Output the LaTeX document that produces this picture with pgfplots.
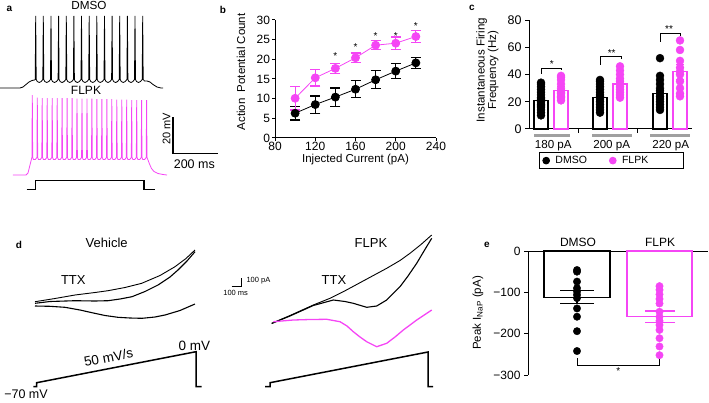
\documentclass[border=0pt]{standalone}
\usepackage{pgfplots}
\pgfplotsset{compat=1.18}
\usepackage{fontspec}
\setmainfont{Liberation Sans}
\definecolor{mag}{RGB}{245,70,245}
\definecolor{gbar}{RGB}{160,160,160}
\newcommand{\fs}[1]{\fontsize{#1}{#1}\selectfont}
\begin{document}
\begin{tikzpicture}
% ---------------- canvas for traces (pixel coordinates, y downward)
\begin{axis}[at={(0pt,0pt)}, anchor=south west, scale only axis, width=709pt, height=402pt,
  xmin=0, xmax=709, ymin=0, ymax=402, y dir=reverse, hide axis, clip=false]
% a: DMSO trace
\addplot[black, line width=0.8pt] coordinates {
(0,88)(20,88)(23,87)(26,84.5)(29,82)(32,80.5)(34.5,80)
(35.2,79.5)(35.7,16)(36.2,79.5)(37.2,81.5)(39.2,82.5)(41.2,81.5)
(42.8,79.5)(43.3,16)(43.8,79.5)(44.8,81.5)(46.8,82.5)(48.8,81.5)
(50.5,79.5)(51.0,16)(51.5,79.5)(52.5,81.5)(54.5,82.5)(56.5,81.5)
(58.1,79.5)(58.6,16)(59.1,79.5)(60.1,81.5)(62.1,82.5)(64.1,81.5)
(65.8,79.5)(66.3,16)(66.8,79.5)(67.8,81.5)(69.8,82.5)(71.8,81.5)
(73.4,79.5)(73.9,16)(74.4,79.5)(75.4,81.5)(77.4,82.5)(79.4,81.5)
(81.0,79.5)(81.5,16)(82.0,79.5)(83.0,81.5)(85.0,82.5)(87.0,81.5)
(88.7,79.5)(89.2,16)(89.7,79.5)(90.7,81.5)(92.7,82.5)(94.7,81.5)
(96.3,79.5)(96.8,16)(97.3,79.5)(98.3,81.5)(100.3,82.5)(102.3,81.5)
(104.0,79.5)(104.5,16)(105.0,79.5)(106.0,81.5)(108.0,82.5)(110.0,81.5)
(111.6,79.5)(112.1,16)(112.6,79.5)(113.6,81.5)(115.6,82.5)(117.6,81.5)
(119.2,79.5)(119.7,16)(120.2,79.5)(121.2,81.5)(123.2,82.5)(125.2,81.5)
(126.9,79.5)(127.4,16)(127.9,79.5)(128.9,81.5)(130.9,82.5)(132.9,81.5)
(134.5,79.5)(135.0,16)(135.5,79.5)(136.5,81.5)(138.5,82.5)(140.5,81.5)
(142.2,79.5)(142.7,16)(143.2,79.5)(144.5,81)(147,81)(150,82)(153,84.5)(157,87)(161,88)(163,88)};
% a: FLPK trace
\addplot[mag, line width=0.8pt] coordinates {
(13,175)(26,175)(28,173)(29.5,167)(31,161)
(31.9,157.5)(32.3,95)(32.7,157.5)(33.5,159.5)(35.3,159.5)
(36.9,157.5)(37.3,97.5)(37.7,157.5)(38.5,159.5)(40.3,159.5)
(41.8,157.5)(42.2,98)(42.6,157.5)(43.4,159.5)(45.2,159.5)
(46.8,157.5)(47.2,98)(47.6,157.5)(48.4,159.5)(50.2,159.5)
(51.8,157.5)(52.2,98)(52.6,157.5)(53.4,159.5)(55.2,159.5)
(56.8,157.5)(57.2,98)(57.6,157.5)(58.4,159.5)(60.2,159.5)
(61.7,157.5)(62.1,98)(62.5,157.5)(63.3,159.5)(65.1,159.5)
(66.7,157.5)(67.1,98)(67.5,157.5)(68.3,159.5)(70.1,159.5)
(71.7,157.5)(72.1,98)(72.5,157.5)(73.3,159.5)(75.1,159.5)
(76.6,157.5)(77.0,98.5)(77.4,157.5)(78.2,159.5)(80.0,159.5)
(81.6,157.5)(82.0,98.5)(82.4,157.5)(83.2,159.5)(85.0,159.5)
(86.6,157.5)(87.0,98.5)(87.4,157.5)(88.2,159.5)(90.0,159.5)
(91.5,157.5)(91.9,98.5)(92.3,157.5)(93.1,159.5)(94.9,159.5)
(96.5,157.5)(96.9,99)(97.3,157.5)(98.1,159.5)(99.9,159.5)
(101.5,157.5)(101.9,99)(102.3,157.5)(103.1,159.5)(104.9,159.5)
(106.5,157.5)(106.9,99)(107.3,157.5)(108.1,159.5)(109.9,159.5)
(111.4,157.5)(111.8,99)(112.2,157.5)(113.0,159.5)(114.8,159.5)
(116.4,157.5)(116.8,99.5)(117.2,157.5)(118.0,159.5)(119.8,159.5)
(121.4,157.5)(121.8,99.5)(122.2,157.5)(123.0,159.5)(124.8,159.5)
(126.3,157.5)(126.7,99.5)(127.1,157.5)(127.9,159.5)(129.7,159.5)
(131.3,157.5)(131.7,100)(132.1,157.5)(132.9,159.5)(134.7,159.5)
(136.3,157.5)(136.7,100)(137.1,157.5)(137.9,159.5)(139.7,159.5)
(141.2,157.5)(141.6,100)(142.0,157.5)(142.8,159.5)(144.6,159.5)
(146.2,157.5)(146.6,100)(147.0,157.5)(148,160)(149.5,164)(151.5,168.5)(154,171.5)(158,173.5)(163,174.5)(167,175)};
% a: stimulus step and scale bar
\addplot[black, line width=1.5pt] coordinates {(26.7,189.3)(35.7,189.3)(35.7,180.7)(144,180.7)(144,189.3)(155,189.3)};
\addplot[black, line width=1.2pt] coordinates {(173,117)(173,153.3)(218.3,153.3)};
% d: vehicle traces
\addplot[black, line width=0.9pt] coordinates {(35,301.7)(55,298.5)(75,295)(95,292.5)(108,290.7)(125,287.5)(141.7,283.3)(160,275.5)(175,266.7)(186,258.5)(195,250)};
\addplot[black, line width=1.1pt] coordinates {(35,303.3)(50,301.5)(75,300.7)(95,301)(108,300.7)(120,299)(132,296.7)(145,291.5)(158,285)(170,277)(178,270)(187,261)(195,251.7)};
\addplot[black, line width=1.1pt] coordinates {(35,306)(50,306.3)(65,307.3)(80,310)(92,312.7)(105,315.5)(118,317.3)(130,318)(142,318.3)(155,317)(165,315)(180,310.5)(195,304)};
% d: FLPK traces
\addplot[black, line width=0.9pt] coordinates {(271.7,323.3)(290,315.5)(313.3,305)(330,298.3)(343.3,291.7)(365,280)(386.7,268.3)(400,260.5)(410,253.3)(421,244.5)(431.7,235)};
\addplot[black, line width=1.1pt] coordinates {(271.7,323.5)(290,316)(313.3,305.5)(333.3,300)(345,301.5)(353.3,303.3)(366.7,307.3)(376.7,306)(386.7,300)(400,286.7)(408,276)(416.7,263.3)(424,251)(431.7,238.3)};
\addplot[mag, line width=1.3pt] coordinates {(273.3,321.7)(293.3,320)(310,319.5)(326.7,319.3)(340,321.7)(347,326)(353.3,331.7)(360,337)(366.7,341.7)(376.7,346.7)(386.7,343.3)(395,337)(403.3,330)(416.7,320)(431.7,310)};
% d: ramps and scale bar
\addplot[black, line width=1.5pt] coordinates {(33.3,386.7)(36.7,386.7)(36.7,382.7)(196,351.7)(196,386.7)(201.7,386.7)};
\addplot[black, line width=1.5pt] coordinates {(265,386.7)(270,386.7)(270,382.7)(428,352)(428,386.7)(433,386.7)};
\addplot[black, line width=0.8pt] coordinates {(231.7,286.7)(241,286.7)(241,278.3)};
% texts
\node[font=\fs{10}\bfseries] at (axis cs:9.3,9.3) {a};
\node[font=\fs{10}\bfseries] at (axis cs:223,10) {b};
\node[font=\fs{10}\bfseries] at (axis cs:472,8) {c};
\node[font=\fs{10}\bfseries] at (axis cs:19,245) {d};
\node[font=\fs{10}\bfseries] at (axis cs:487,245) {e};
\node[font=\fs{11.7}] at (axis cs:89,5.5) {DMSO};
\node[font=\fs{12}] at (axis cs:86,90.7) {FLPK};
\node[font=\fs{11}, rotate=90] at (axis cs:166.5,129) {20 mV};
\node[font=\fs{12.5}] at (axis cs:194.3,164) {200 ms};
\node[font=\fs{13}] at (axis cs:106.7,243.3) {Vehicle};
\node[font=\fs{13}] at (axis cs:73.3,280) {TTX};
\node[font=\fs{13}] at (axis cs:371,242.7) {FLPK};
\node[font=\fs{13}] at (axis cs:334,280) {TTX};
\node[font=\fs{12.5}] at (axis cs:26,394.5) {−70 mV};
\node[font=\fs{13.5}] at (axis cs:194.3,345.7) {0 mV};
\node[font=\fs{13.5}, rotate=11] at (axis cs:108.5,357.5) {50 mV/s};
\node[font=\fs{7.5}, anchor=west] at (axis cs:243,280.7) {100 pA};
\node[font=\fs{7.5}] at (axis cs:235.7,293.3) {100 ms};
\end{axis}
% ---------------- b
\begin{axis}[at={(275pt,264pt)}, anchor=south west, scale only axis, width=161pt, height=118pt,
  xmin=80, xmax=240, ymin=0, ymax=30, axis lines*=left, clip=false,
  xtick={80,120,...,240}, ytick={0,5,...,30}, tick align=outside, major tick length=3pt,
  axis line style={line width=1pt}, every tick/.style={black, line width=1pt},
  /pgf/number format/assume math mode=true, tick label style={font=\fs{12}},
  xticklabel style={yshift=2.5pt}, yticklabel style={xshift=1.5pt},
  xlabel={Injected Current (pA)}, ylabel={Action\ \ Potential Count},
  label style={font=\fs{11.5}},
  xlabel style={at={(axis description cs:0.5,-0.185)}, anchor=center},
  ylabel style={at={(axis description cs:-0.211,0.56)}, anchor=center}]
\addplot[black, line width=0.8pt, mark=*, mark size=4pt, mark options={fill=black},
  error bars/.cd, y dir=both, y explicit, error bar style={line width=1.2pt},
  error mark options={rotate=90, mark size=5pt, line width=1.2pt}]
  coordinates {(100,6.3)+-(0,1.7)(120,8.5)+-(0,2.2)(140,10.4)+-(0,2.3)(160,12.4)+-(0,2.2)(180,14.8)+-(0,2.3)(200,17.0)+-(0,1.9)(220,19.1)+-(0,1.4)};
\addplot[mag, line width=0.8pt, mark=*, mark size=4pt, mark options={fill=mag},
  error bars/.cd, y dir=both, y explicit, error bar style={line width=1.2pt},
  error mark options={rotate=90, mark size=5pt, line width=1.2pt}]
  coordinates {(100,10.1)+-(0,3.0)(120,15.3)+-(0,2.1)(140,17.7)+-(0,1.3)(160,20.4)+-(0,1.2)(180,23.6)+-(0,1.1)(200,24.1)+-(0,1.6)(220,25.8)+-(0,1.6)};
\node[font=\fs{10}] at (axis cs:140,20.9) {*};
\node[font=\fs{10}] at (axis cs:160,23.2) {*};
\node[font=\fs{10}] at (axis cs:180,26.0) {*};
\node[font=\fs{10}] at (axis cs:200,26.0) {*};
\node[font=\fs{10}] at (axis cs:220,28.4) {*};
\end{axis}
% ---------------- c
\begin{axis}[at={(529pt,273pt)}, anchor=south west, scale only axis, width=163pt, height=109pt,
  xmin=0, xmax=163, ymin=0, ymax=80, axis lines*=left, clip=false,
  xtick={49,108}, xticklabels={}, ytick={0,20,...,80}, tick align=outside, major tick length=4pt,
  axis line style={line width=1pt}, every tick/.style={black, line width=1pt},
  /pgf/number format/assume math mode=true, tick label style={font=\fs{12.5}},
  ylabel={Instantaneous Firing\\Frequency (Hz)},
  ylabel style={font=\fs{11.5}, align=center, at={(axis description cs:-0.255,0.54)}, anchor=center},
  legend image code/.code={\draw[#1] plot coordinates {(0pt,0pt)};},
  legend style={at={(axis description cs:0.506,-0.29)}, anchor=center, draw=black, line width=1pt,
    font=\fs{10.5}, inner xsep=3pt, inner ysep=1.5pt,
    /tikz/every odd column/.append style={column sep=4pt}},
  legend columns=2]
\addlegendimage{only marks, mark=*, mark size=3.3pt, black}
\addlegendentry{\makebox[52pt][l]{DMSO}}
\addlegendimage{only marks, mark=*, mark size=3.3pt, mag}
\addlegendentry{\makebox[56pt][l]{FLPK}}
\addplot[ybar, bar width=14pt, bar shift=0pt, fill=white, draw=black, line width=1.3pt, forget plot,
  error bars/.cd, y dir=both, y explicit, error bar style={black, line width=1.1pt},
  error mark options={rotate=90, mark size=4pt, black, line width=1.1pt}]
  coordinates {(12,21)+-(0,2)(71,23)+-(0,2)(131,26)+-(0,2.5)};
\addplot[ybar, bar width=14pt, bar shift=0pt, fill=white, draw=mag, line width=1.3pt, forget plot,
  error bars/.cd, y dir=both, y explicit, error bar style={mag, line width=1.1pt},
  error mark options={rotate=90, mark size=4pt, mag, line width=1.1pt}]
  coordinates {(32,28.5)+-(0,2.5)(91,33)+-(0,2.5)(151,42)+-(0,5.5)};
\addplot[only marks, mark=*, mark size=4pt, black, forget plot] coordinates {
(12,10)(12,12)(12,14)(12,16)(12,17)(12,18)(12,20)(12,21)(12,22)(12,23)(12,25)(12,27)(12,29)(12,31)(12,33)(12,34)
(71,12)(71,14)(71,16)(71,18)(71,20)(71,22)(71,24)(71,25)(71,27)(71,29)(71,31)(71,33)(71,35)(71,36)
(131,14)(131,16)(131,18)(131,20)(131,22)(131,24)(131,26)(131,28)(131,30)(131,33)(131,36)(131,39)(131,52)};
\addplot[only marks, mark=*, mark size=4pt, mag, forget plot] coordinates {
(32,21)(32,23)(32,24)(32,26)(32,27)(32,28)(32,30)(32,33)(32,36)(32,38)(32,39)
(91,23)(91,25)(91,27)(91,29)(91,31)(91,33)(91,35)(91,37)(91,40)(91,43)(91,46)
(151,24)(151,26)(151,30)(151,35)(151,40)(151,42)(151,45)(151,50)(151,58)(151,65)};
% group underlines
\addplot[gbar, line width=3pt, forget plot] coordinates {(5,-5.1)(41,-5.1)};
\addplot[gbar, line width=3pt, forget plot] coordinates {(63,-5.1)(103,-5.1)};
\addplot[gbar, line width=3pt, forget plot] coordinates {(121,-5.1)(161,-5.1)};
% significance brackets
\addplot[black, line width=1pt, forget plot] coordinates {(12.7,40.4)(12.7,44.5)(32.7,44.5)(32.7,43.3)};
\addplot[black, line width=1pt, forget plot] coordinates {(71,47)(71,53.1)(92.7,53.1)(92.7,51.2)};
\addplot[black, line width=1pt, forget plot] coordinates {(131,64)(131,70.2)(151,70.2)(151,68.3)};
\node[font=\fs{10}] at (axis cs:22.7,47.5) {*};
\node[font=\fs{10}] at (axis cs:82.7,56) {**};
\node[font=\fs{10}] at (axis cs:140,73.3) {**};
\node[font=\fs{11.6}] at (axis cs:24.3,-12.5) {180 pA};
\node[font=\fs{11.6}] at (axis cs:82.7,-12.5) {200 pA};
\node[font=\fs{11.6}] at (axis cs:141.7,-12.5) {220 pA};
\end{axis}
% ---------------- e
\begin{axis}[at={(528pt,27pt)}, anchor=south west, scale only axis, width=180pt, height=124pt,
  xmin=0, xmax=180, ymin=-300, ymax=0, axis x line*=top, axis y line*=left, clip=false,
  xtick=\empty, ytick={-300,-200,-100,0}, yticklabels={−300,−200,−100,0},
  tick align=outside, major tick length=4pt,
  axis line style={line width=1pt}, every tick/.style={black, line width=1pt},
  tick label style={font=\fs{12}},
  ylabel={Peak I\textsubscript{NaP} (pA)},
  ylabel style={font=\fs{11.5}, at={(axis description cs:-0.278,0.5)}, anchor=center}]
\addplot[ybar, bar width=66pt, bar shift=0pt, fill=white, draw=black, line width=1.3pt] coordinates {(49,-112)};
\addplot[ybar, bar width=65pt, bar shift=0pt, fill=white, draw=mag, line width=1.3pt] coordinates {(131.5,-159)};
\addplot[only marks, mark=*, mark size=3.7pt, black] coordinates {(49,-46)(49,-50)(49,-74)(49,-90)(49,-98)(49,-106)(49,-114)(49,-139)(49,-159)(49,-194)(49,-242)};
\addplot[only marks, mark=*, mark size=3.7pt, mag] coordinates {(131.5,-85)(131.5,-94)(131.5,-105)(131.5,-116)(131.5,-127)(131.5,-147)(131.5,-159)(131.5,-169)(131.5,-179)(131.5,-191)(131.5,-211)(131.5,-231)(131.5,-252)};
\addplot[draw=none, mark=none, error bars/.cd, y dir=both, y explicit, error bar style={black, line width=1.2pt},
  error mark options={rotate=90, mark size=17pt, black, line width=1.2pt}] coordinates {(49,-111.5)+-(0,15.5)};
\addplot[draw=none, mark=none, error bars/.cd, y dir=both, y explicit, error bar style={mag, line width=1.2pt},
  error mark options={rotate=90, mark size=15pt, mag, line width=1.2pt}] coordinates {(132,-159)+-(0,14)};
\addplot[black, line width=1pt] coordinates {(49,-260)(49,-276)(131.5,-276)(131.5,-260)};
\node[font=\fs{10}] at (axis cs:90.3,-291) {*};
\node[font=\fs{12}, anchor=south] at (axis cs:50,2) {DMSO};
\node[font=\fs{12}, anchor=south] at (axis cs:132,2) {FLPK};
\end{axis}
\pgfresetboundingbox
\useasboundingbox (0,0) rectangle (709pt,402pt);
\end{tikzpicture}
\end{document}
